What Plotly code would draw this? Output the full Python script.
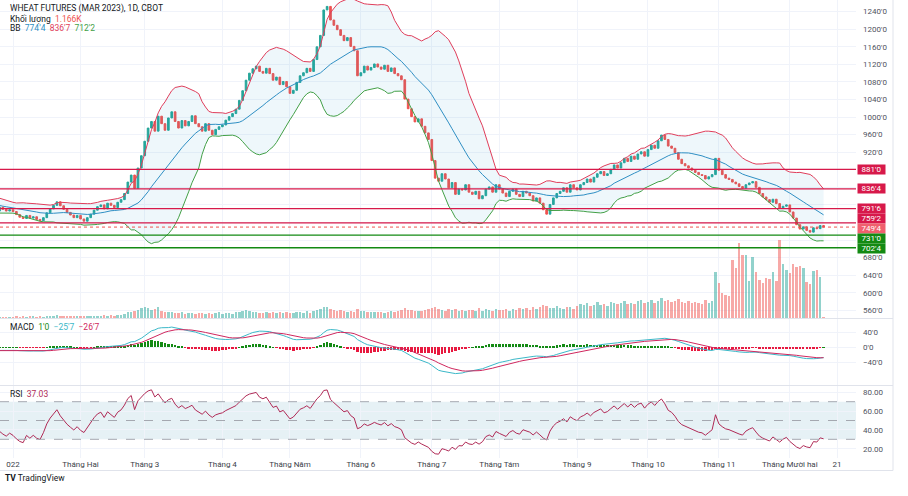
import numpy as np
import pandas as pd
import plotly.graph_objects as go

# ---------------- data ----------------
title_text = "WHEAT FUTURES (MAR 2023), 1D, CBOT"
vol_name = "Khối lượng"
vol_last_text = "1.166K"
bb_legend = ["774'4", "836'7", "712'2"]
macd_legend = ["1'0", "\u221225'7", "\u221226'7"]
rsi_legend = "37.03"

month_labels = ["022", "Tháng Hai", "Tháng 3", "Tháng 4", "Tháng Năm", "Tháng 6", "Tháng 7",
                "Tháng Tám", "Tháng 9", "Tháng 10", "Tháng 11", "Tháng Mười hai", "21"]
month_days = [20, 19, 23, 20, 21, 21, 20, 23, 21, 21, 21, 14]

red_levels = [881.0, 836.5, 791.75, 759.25]
green_levels = [731.0, 702.5]
last_price = 749.5

pre_close = [832, 829, 834, 826, 821, 818, 823, 815, 811, 813, 806, 808, 801, 804, 798,
             796, 800, 793, 797, 791, 795, 789, 792, 787, 790, 786, 795, 790, 786, 789]
jan_close = [785, 778, 772, 769, 776, 770, 773, 767, 764, 771, 782, 791, 799, 807, 798, 790, 783, 777, 771, 776]
feb_close = [768, 763, 771, 779, 788, 796, 800, 791, 804, 799, 794, 806, 812, 826, 852, 868, 838, 884, 912]
mar_close = [945, 975, 990, 968, 1002, 985, 970, 998, 1012, 990, 975, 992, 980, 990, 1003, 985,
             978, 968, 985, 970, 960, 972, 978]
apr_close = [982, 993, 1001, 1008, 1018, 1038, 1060, 1084, 1100, 1110, 1116, 1104, 1100, 1111, 1099,
             1084, 1091, 1074, 1081, 1069]
may_close = [1054, 1061, 1079, 1094, 1101, 1111, 1104, 1131, 1160, 1186, 1244, 1252, 1221, 1209, 1199,
             1186, 1174, 1181, 1161, 1151, 1094]
jun_close = [1101, 1116, 1107, 1113, 1121, 1114, 1109, 1118, 1104, 1112, 1099, 1094, 1085, 1041, 1019,
             1001, 989, 996, 979, 964, 949]
jul_close = [901, 861, 854, 871, 859, 839, 851, 824, 836, 834, 846, 829, 824, 831, 814, 821, 836, 841, 829, 846]
aug_close = [836, 827, 819, 831, 836, 824, 819, 831, 827, 821, 809, 816, 804, 789, 779, 801, 816, 826,
             831, 839, 829, 846, 839]
sep_close = [834, 846, 851, 859, 852, 863, 871, 876, 867, 871, 881, 891, 884, 896, 906, 899, 911, 904,
             916, 921, 911]
oct_close = [926, 936, 929, 946, 959, 949, 934, 929, 919, 904, 894, 889, 884, 879, 874, 869, 867, 859,
             864, 869, 906]
nov_close = [879, 869, 861, 858, 852, 848, 842, 838, 846, 850, 853, 840, 826, 818, 812, 806, 813, 803,
             792, 797, 800]
dec_close = [784, 770, 755, 745, 750, 742, 738, 748, 746, 753, 749.5]

pre_vol = [1.1, 1.3, 1.0, 1.4, 1.2, 1.1, 1.5, 1.2, 1.3, 1.0, 1.4, 1.2, 1.1, 1.3, 1.5,
           1.2, 1.0, 1.3, 1.4, 1.1, 1.2, 1.5, 1.3, 1.0, 1.2, 1.4, 1.1, 1.3, 1.2, 1.5]
jan_vol = [1.5, 2.0, 1.8, 2.2, 1.6, 1.9, 2.4, 1.7, 2.1, 1.8, 2.6, 2.3, 2.9, 3.1, 2.5, 2.2, 2.0, 1.9, 2.4, 2.1]
feb_vol = [2.3, 2.6, 2.1, 2.5, 3.0, 2.8, 2.4, 3.2, 2.9, 3.4, 2.7, 3.6, 3.9, 5.2, 6.8, 7.5, 8.9, 9.6, 11.5]
mar_vol = [13.8, 12.4, 9.8, 10.5, 12.9, 8.4, 7.6, 6.9, 7.8, 6.1, 5.9, 6.8, 5.4, 5.8, 6.3, 5.1, 5.5, 6.0,
           4.9, 5.6, 5.2, 6.4, 7.1]
apr_vol = [5.3, 5.8, 6.2, 5.1, 6.7, 7.4, 8.6, 9.2, 7.9, 6.8, 7.1, 6.3, 5.9, 7.5, 6.1, 6.9, 5.8, 7.2, 6.4, 7.8]
may_vol = [6.6, 5.9, 6.8, 7.3, 6.2, 7.9, 6.5, 8.8, 9.9, 10.6, 13.4, 12.8, 11.2, 9.6, 8.4, 9.1, 8.0, 7.5,
           8.3, 7.2, 10.4]
jun_vol = [8.8, 7.9, 7.2, 6.8, 7.6, 6.9, 7.8, 6.4, 7.1, 8.3, 7.4, 8.9, 9.5, 11.6, 10.2, 9.4, 8.7, 9.0,
           8.2, 9.8, 10.9]
jul_vol = [12.6, 13.8, 10.4, 9.6, 8.9, 10.7, 9.2, 11.3, 8.6, 9.8, 8.1, 10.2, 9.4, 8.8, 11.5, 9.0, 10.6,
           9.9, 8.7, 11.2]
aug_vol = [10.1, 9.2, 11.4, 8.9, 10.3, 9.7, 12.1, 10.6, 11.8, 9.5, 12.7, 10.9, 13.5, 16.2, 14.8, 12.4,
           11.6, 13.9, 12.2, 10.8, 12.9, 13.6, 11.4]
sep_vol = [14.8, 16.6, 15.2, 17.9, 14.7, 16.1, 18.8, 15.5, 17.2, 14.9, 19.4, 17.8, 16.3, 18.6, 20.2, 16.9,
           18.3, 17.1, 19.9, 21.6, 18.4]
oct_vol = [19.4, 21.1, 18.2, 20.8, 23.6, 19.9, 21.4, 18.8, 20.3, 22.5, 19.2, 17.9, 20.7, 18.4, 19.8, 17.5,
           16.9, 21.2, 18.6, 19.9, 55.2]
nov_vol = [42.0, 30.0, 27.6, 26.4, 69.6, 60.0, 90.0, 75.6, 75.6, 44.4, 73.2, 55.2, 45.6, 42.0, 48.0, 46.8,
           55.2, 44.4, 93.6, 64.8, 57.6]
dec_vol = [54.0, 64.8, 61.2, 62.4, 60.0, 43.2, 40.8, 56.4, 57.6, 49.2, 1.166]

# ---------------- assemble ----------------
close = pd.Series(pre_close + jan_close + feb_close + mar_close + apr_close + may_close + jun_close
                  + jul_close + aug_close + sep_close + oct_close + nov_close + dec_close, dtype=float)
volume = np.array(pre_vol + jan_vol + feb_vol + mar_vol + apr_vol + may_vol + jun_vol + jul_vol
                  + aug_vol + sep_vol + oct_vol + nov_vol + dec_vol, dtype=float)
n_pre = len(pre_close)
x = np.arange(len(close)) - n_pre
opens = close.shift(1).fillna(close.iloc[0])
high = np.maximum(opens, close)
low = np.minimum(opens, close)

# indicators
basis = close.rolling(20).mean()
sd = close.rolling(20).std(ddof=0)
upper = basis + 2 * sd
lower = basis - 2 * sd
ema12 = close.ewm(span=12, adjust=False).mean()
ema26 = close.ewm(span=26, adjust=False).mean()
macd = ema12 - ema26
signal = macd.ewm(span=9, adjust=False).mean()
hist = macd - signal
delta = close.diff()
gain = delta.clip(lower=0).ewm(alpha=1 / 14, adjust=False).mean()
loss = (-delta.clip(upper=0)).ewm(alpha=1 / 14, adjust=False).mean()
rsi = 100 - 100 / (1 + gain / loss)

tickvals_x = list(np.concatenate([[0], np.cumsum(month_days)]))


def fmt(p):
    w = int(np.floor(p))
    e = int(round((p - w) * 8))
    s = f"{abs(w)}'{e}"
    return ("\u2212" + s) if p < 0 else s


UP = "#26a69a"
DN = "#ef5350"
up_mask = close.values >= opens.values

fig = go.Figure()

fig.add_trace(go.Bar(x=x, y=volume, yaxis="y4",
                     marker=dict(color=np.where(up_mask, "rgba(38,166,154,0.5)", "rgba(239,83,80,0.5)"),
                                 line=dict(width=0)),
                     width=0.72, hoverinfo="skip"))
fig.add_trace(go.Scatter(x=x, y=lower, mode="lines", line=dict(color="#43a047", width=1), hoverinfo="skip"))
fig.add_trace(go.Scatter(x=x, y=upper, mode="lines", line=dict(color="#e03e5b", width=1),
                         fill="tonexty", fillcolor="rgba(33,150,200,0.08)", hoverinfo="skip"))
fig.add_trace(go.Scatter(x=x, y=basis, mode="lines", line=dict(color="#2f8fc4", width=1), hoverinfo="skip"))
fig.add_trace(go.Candlestick(x=x, open=opens, high=high, low=low, close=close,
                             increasing=dict(line=dict(color=UP, width=1), fillcolor=UP),
                             decreasing=dict(line=dict(color=DN, width=1), fillcolor=DN),
                             whiskerwidth=0, hoverinfo="skip"))
fig.add_trace(go.Bar(x=x, y=hist, yaxis="y2",
                     marker=dict(color=np.where(hist >= 0, "#138a13", "#e8193f"), line=dict(width=0)),
                     width=0.7, hoverinfo="skip"))
fig.add_trace(go.Scatter(x=x, y=macd, yaxis="y2", mode="lines", line=dict(color="#3bb8c8", width=1),
                         hoverinfo="skip"))
fig.add_trace(go.Scatter(x=x, y=signal, yaxis="y2", mode="lines", line=dict(color="#d0275e", width=1),
                         hoverinfo="skip"))
fig.add_trace(go.Scatter(x=x, y=rsi, yaxis="y3", mode="lines", line=dict(color="#b02a56", width=1),
                         hoverinfo="skip"))

GRID = "#f0f3fa"
TICKF = dict(family="Roboto", size=8, color="#50535e")

price_ticks = list(range(560, 1241, 40))
hidden = {720, 760, 800, 840, 880}
price_text = ["" if v in hidden else fmt(v) for v in price_ticks]

H_PLOT = 458.0
dom_price = [(H_PLOT - 318) / H_PLOT, 1.0]
dom_macd = [(H_PLOT - 385) / H_PLOT, (H_PLOT - 319) / H_PLOT]
dom_rsi = [0.0, (H_PLOT - 386) / H_PLOT]

fig.update_layout(
    width=908, height=496, margin=dict(l=0, r=52, t=0, b=38),
    paper_bgcolor="white", plot_bgcolor="white", showlegend=False,
    bargap=0,
    xaxis=dict(domain=[0, 1], anchor="y3", range=[-3.85, 249.6], tickvals=tickvals_x, ticktext=month_labels,
               showgrid=True, gridcolor=GRID, zeroline=False, showline=False, ticks="",
               tickfont=dict(family="Roboto", size=8, color="#3c3f4a"), rangeslider=dict(visible=False)),
    yaxis=dict(domain=dom_price, side="right", range=[542.5, 1266.6], tickvals=price_ticks, ticktext=price_text,
               showgrid=True, gridcolor=GRID, zeroline=False, ticks="", tickfont=TICKF, ticklabelstandoff=6),
    yaxis4=dict(domain=dom_price, overlaying="y", range=[0, 381.6], visible=False),
    yaxis2=dict(domain=dom_macd, side="right", range=[-100.5, 75.5], tickvals=[40, 0, -40],
                ticktext=[fmt(40), fmt(0), fmt(-40)], showgrid=True, gridcolor=GRID, zeroline=False,
                ticks="", tickfont=TICKF, ticklabelstandoff=6),
    yaxis3=dict(domain=dom_rsi, side="right", range=[10.1, 86.7], tickvals=[20, 40, 60, 80],
                ticktext=["20.00", "40.00", "60.00", "80.00"], showgrid=True, gridcolor=GRID, zeroline=False,
                ticks="", tickfont=TICKF, ticklabelstandoff=6),
)

shapes = []
shapes.append(dict(type="rect", xref="paper", x0=0, x1=1, yref="y3", y0=30, y1=70,
                   fillcolor="rgba(60,150,180,0.13)", line=dict(width=0), layer="below"))
for lv in [70, 50, 30]:
    shapes.append(dict(type="line", xref="paper", x0=0, x1=1, yref="y3", y0=lv, y1=lv,
                       line=dict(color="#a5a8b0", width=1, dash="dash")))
for lv in red_levels:
    shapes.append(dict(type="line", xref="paper", x0=0, x1=1, yref="y", y0=lv, y1=lv,
                       line=dict(color="#d7194a", width=1.3)))
for lv in green_levels:
    shapes.append(dict(type="line", xref="paper", x0=0, x1=1, yref="y", y0=lv, y1=lv,
                       line=dict(color="#138a13", width=1.3)))
shapes.append(dict(type="line", xref="paper", x0=0, x1=1, yref="y", y0=last_price, y1=last_price,
                   line=dict(color="#ef5350", width=1, dash="dot")))
for yp in [318.5, 385.5, 470.5]:
    yy = (H_PLOT - yp) / H_PLOT
    shapes.append(dict(type="line", xref="paper", yref="paper", x0=0, x1=893 / 856, y0=yy, y1=yy,
                       line=dict(color="#e0e3eb", width=1)))
shapes.append(dict(type="line", xref="paper", yref="paper", x0=893 / 856, x1=893 / 856, y0=-12.5 / H_PLOT,
                   y1=1, line=dict(color="#e0e3eb", width=1)))
fig.update_layout(shapes=shapes)

ann = []
label_specs = [(881.0, "#d7194a", 0), (836.5, "#d7194a", 0), (791.75, "#d7194a", 0),
               (759.25, "#d7194a", 4.3), (last_price, "#f0606e", -1.1), (731.0, "#138a13", -3),
               (702.5, "#138a13", -0.6)]
for val, col, sh in label_specs:
    ann.append(dict(xref="paper", x=1, xanchor="left", xshift=1, yref="y", y=val, yanchor="middle",
                    yshift=sh, text=fmt(val), showarrow=False, bgcolor=col, width=27, height=9,
                    borderpad=0, font=dict(family="Roboto", size=8, color="white")))


def legend(text, ypix, xpix=8):
    return dict(xref="paper", x=xpix / 856, xanchor="left", yref="paper",
                y=(H_PLOT - ypix) / H_PLOT, yanchor="middle", text=text, showarrow=False,
                font=dict(family="Roboto", size=8.5, color="#131722"))


ann.append(legend(title_text, 8))
ann.append(legend(f"{vol_name}  <span style='color:#ef5350'>{vol_last_text}</span>", 19))
ann.append(legend(f"BB  <span style='color:#2f8fc4'>{bb_legend[0]}</span>  "
                  f"<span style='color:#e03e5b'>{bb_legend[1]}</span>  "
                  f"<span style='color:#43a047'>{bb_legend[2]}</span>", 28))
ann.append(legend(f"MACD  <span style='color:#138a13'>{macd_legend[0]}</span>  "
                  f"<span style='color:#3bb8c8'>{macd_legend[1]}</span>  "
                  f"<span style='color:#d0275e'>{macd_legend[2]}</span>", 327))
ann.append(legend(f"RSI  <span style='color:#b02a56'>{rsi_legend}</span>", 394))
ann.append(dict(xref="paper", x=3 / 856, xanchor="left", yref="paper", y=(H_PLOT - 478) / H_PLOT,
                yanchor="middle", text="<b>TV</b> TradingView", showarrow=False,
                font=dict(family="Roboto", size=8.5, color="#131722")))
fig.update_layout(annotations=ann)

fig.write_html("out.html")
